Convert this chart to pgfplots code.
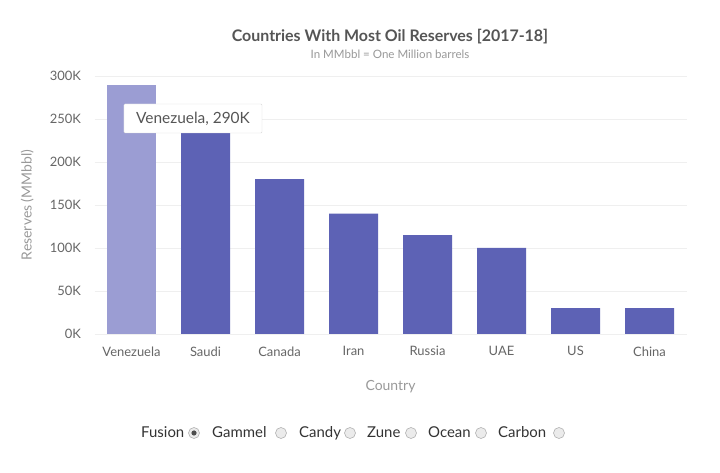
\documentclass[border=0pt]{standalone}
\usepackage{fontspec}
\setmainfont{Lato}
\usepackage{pgfplots}
\pgfplotsset{compat=1.18}

\definecolor{barcol}{HTML}{5D62B5}
\definecolor{hovercol}{HTML}{9B9DD3}
\definecolor{gridcol}{HTML}{EFEFEF}
\definecolor{ticktxt}{HTML}{666666}
\definecolor{titletxt}{HTML}{555555}
\definecolor{subtxt}{HTML}{999999}
\definecolor{legtxt}{HTML}{333333}
\definecolor{tiptxt}{HTML}{555555}

\pgfplotstableread{
idx value
1 260000
2 180000
3 140000
4 115000
5 100000
6 30000
7 30000
}\restbars

\pgfplotstableread{
idx value
0 290000
}\hoverbar

\begin{document}
\begin{tikzpicture}[x=1bp,y=1bp]
\path[use as bounding box, fill=white] (0,0) rectangle (720,473);

% title and subtitle
\node[font=\fontsize{16}{19}\selectfont\bfseries, text=titletxt] at (390,436) {Countries With Most Oil Reserves [2017-18]};
\node[font=\fontsize{11.6}{13}\selectfont, text=subtxt] at (390,418.5) {In MMbbl = One Million barrels};

\begin{axis}[
    at={(94.5bp,139bp)}, anchor=south west,
    scale only axis,
    width=592bp, height=258bp,
    xmin=-0.5, xmax=7.5,
    ymin=0, ymax=300000,
    enlargelimits=false,
    axis line style={draw=none},
    ybar, bar width=49bp,
    xtick={0,...,7},
    xticklabels={Venezuela,Saudi,Canada,Iran,Russia,UAE,US,China},
    ytick={0,50000,100000,150000,200000,250000,300000},
    yticklabels={0K,50K,100K,150K,200K,250K,300K},
    scaled y ticks=false,
    ymajorgrids, grid style={gridcol, line width=0.8pt},
    major tick length=0pt,
    tick label style={font=\fontsize{13}{15}\selectfont, text=ticktxt},
    xticklabel style={yshift=-9bp},
    yticklabel style={xshift=-10bp},
    xlabel={Country},
    ylabel={Reserves (MMbbl)},
    label style={font=\fontsize{14}{16}\selectfont, text=subtxt},
    xlabel style={at={(axis description cs:0.5,0)}, anchor=center, yshift=-53bp},
    ylabel style={at={(axis description cs:-0.1137,0.5)}, anchor=center},
    clip=false,
]
\addplot[fill=hovercol, draw=none, bar shift=0pt] table[x=idx, y=value] {\hoverbar};
\addplot[fill=barcol, draw=none, bar shift=0pt] table[x=idx, y=value] {\restbars};
\node[draw=black!15, fill=white, rounded corners=1bp, inner sep=0pt,
      minimum width=138bp, minimum height=29bp,
      font=\fontsize{15.5}{17}\selectfont, text=tiptxt, anchor=center]
      at (axis cs:0.831,250600) {Venezuela, 290K};
\end{axis}

% legend (theme switcher)
\foreach \name/\tx/\cx in {Fusion/141/194, Gammel/212/281, Candy/299/350, Zune/367/411, Ocean/428/481, Carbon/498/559}{
  \node[anchor=base west, inner sep=0pt, font=\fontsize{15}{18}\selectfont, text=legtxt] at (\tx,35) {\name};
  \draw[fill=black!8, draw=black!30, line width=0.6pt] (\cx,40) circle (5.5);
}
\fill[black!70] (194,40) circle (2.6);
\end{tikzpicture}
\end{document}
